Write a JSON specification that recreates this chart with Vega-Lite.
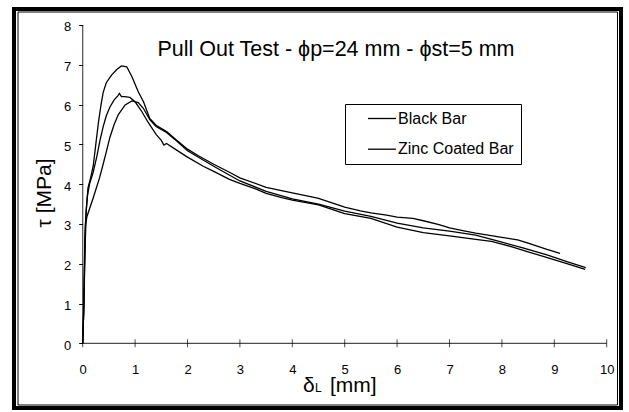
{
  "$schema": "https://vega.github.io/schema/vega-lite/v6.json",
  "autosize": {"type": "none"},
  "padding": {"left": 14, "top": 9, "right": 8, "bottom": 4},
  "width": 607,
  "height": 399,
  "background": "white",
  "config": {
    "view": {"stroke": "black", "strokeWidth": 4},
    "font": "Liberation Sans",
    "axis": {"labelFont": "Liberation Sans", "labelColor": "black", "tickColor": "black", "grid": false},
    "legend": {"labelFont": "Liberation Sans"}
  },
  "datasets": {
    "curves": [
      {"bar": "Black Bar", "spec": "A", "x": 0, "y": 0},
      {"bar": "Black Bar", "spec": "A", "x": 0.02, "y": 0.8},
      {"bar": "Black Bar", "spec": "A", "x": 0.03, "y": 1.8},
      {"bar": "Black Bar", "spec": "A", "x": 0.04, "y": 2.6},
      {"bar": "Black Bar", "spec": "A", "x": 0.06, "y": 3.2},
      {"bar": "Black Bar", "spec": "A", "x": 0.1, "y": 3.9},
      {"bar": "Black Bar", "spec": "A", "x": 0.15, "y": 4.15},
      {"bar": "Black Bar", "spec": "A", "x": 0.2, "y": 4.45},
      {"bar": "Black Bar", "spec": "A", "x": 0.25, "y": 5.0},
      {"bar": "Black Bar", "spec": "A", "x": 0.3, "y": 5.55},
      {"bar": "Black Bar", "spec": "A", "x": 0.35, "y": 6.0},
      {"bar": "Black Bar", "spec": "A", "x": 0.39, "y": 6.3},
      {"bar": "Black Bar", "spec": "A", "x": 0.45, "y": 6.55},
      {"bar": "Black Bar", "spec": "A", "x": 0.55, "y": 6.74},
      {"bar": "Black Bar", "spec": "A", "x": 0.65, "y": 6.88},
      {"bar": "Black Bar", "spec": "A", "x": 0.74, "y": 6.97},
      {"bar": "Black Bar", "spec": "A", "x": 0.84, "y": 6.95},
      {"bar": "Black Bar", "spec": "A", "x": 0.94, "y": 6.7},
      {"bar": "Black Bar", "spec": "A", "x": 1.06, "y": 6.32},
      {"bar": "Black Bar", "spec": "A", "x": 1.16, "y": 6.07},
      {"bar": "Black Bar", "spec": "A", "x": 1.28, "y": 5.65},
      {"bar": "Black Bar", "spec": "A", "x": 1.4, "y": 5.48},
      {"bar": "Black Bar", "spec": "A", "x": 1.6, "y": 5.32},
      {"bar": "Black Bar", "spec": "A", "x": 1.8, "y": 5.1},
      {"bar": "Black Bar", "spec": "A", "x": 2.0, "y": 4.88},
      {"bar": "Black Bar", "spec": "A", "x": 2.2, "y": 4.72},
      {"bar": "Black Bar", "spec": "A", "x": 2.5, "y": 4.5},
      {"bar": "Black Bar", "spec": "A", "x": 2.8, "y": 4.3},
      {"bar": "Black Bar", "spec": "A", "x": 3.0, "y": 4.16},
      {"bar": "Black Bar", "spec": "A", "x": 3.5, "y": 3.92},
      {"bar": "Black Bar", "spec": "A", "x": 4.0, "y": 3.78},
      {"bar": "Black Bar", "spec": "A", "x": 4.3, "y": 3.7},
      {"bar": "Black Bar", "spec": "A", "x": 4.5, "y": 3.64},
      {"bar": "Black Bar", "spec": "A", "x": 5.0, "y": 3.42},
      {"bar": "Black Bar", "spec": "A", "x": 5.3, "y": 3.33},
      {"bar": "Black Bar", "spec": "A", "x": 5.5, "y": 3.28},
      {"bar": "Black Bar", "spec": "A", "x": 5.8, "y": 3.22},
      {"bar": "Black Bar", "spec": "A", "x": 6.0, "y": 3.17},
      {"bar": "Black Bar", "spec": "A", "x": 6.3, "y": 3.14},
      {"bar": "Black Bar", "spec": "A", "x": 6.5, "y": 3.08},
      {"bar": "Black Bar", "spec": "A", "x": 6.8, "y": 2.98},
      {"bar": "Black Bar", "spec": "A", "x": 7.0, "y": 2.9},
      {"bar": "Black Bar", "spec": "A", "x": 7.3, "y": 2.82},
      {"bar": "Black Bar", "spec": "A", "x": 7.5, "y": 2.77},
      {"bar": "Black Bar", "spec": "A", "x": 8.0, "y": 2.66},
      {"bar": "Black Bar", "spec": "A", "x": 8.3, "y": 2.6},
      {"bar": "Black Bar", "spec": "A", "x": 8.5, "y": 2.52},
      {"bar": "Black Bar", "spec": "A", "x": 8.86, "y": 2.36},
      {"bar": "Black Bar", "spec": "A", "x": 9.11, "y": 2.26},
      {"bar": "Zinc Coated Bar", "spec": "B", "x": 0, "y": 0},
      {"bar": "Zinc Coated Bar", "spec": "B", "x": 0.03, "y": 1.3},
      {"bar": "Zinc Coated Bar", "spec": "B", "x": 0.04, "y": 2.2},
      {"bar": "Zinc Coated Bar", "spec": "B", "x": 0.05, "y": 2.9},
      {"bar": "Zinc Coated Bar", "spec": "B", "x": 0.07, "y": 3.4},
      {"bar": "Zinc Coated Bar", "spec": "B", "x": 0.09, "y": 3.7},
      {"bar": "Zinc Coated Bar", "spec": "B", "x": 0.13, "y": 4.0},
      {"bar": "Zinc Coated Bar", "spec": "B", "x": 0.2, "y": 4.3},
      {"bar": "Zinc Coated Bar", "spec": "B", "x": 0.27, "y": 4.7},
      {"bar": "Zinc Coated Bar", "spec": "B", "x": 0.33, "y": 5.1},
      {"bar": "Zinc Coated Bar", "spec": "B", "x": 0.39, "y": 5.44},
      {"bar": "Zinc Coated Bar", "spec": "B", "x": 0.45, "y": 5.72},
      {"bar": "Zinc Coated Bar", "spec": "B", "x": 0.52, "y": 5.94},
      {"bar": "Zinc Coated Bar", "spec": "B", "x": 0.6, "y": 6.12},
      {"bar": "Zinc Coated Bar", "spec": "B", "x": 0.67, "y": 6.22},
      {"bar": "Zinc Coated Bar", "spec": "B", "x": 0.7, "y": 6.28},
      {"bar": "Zinc Coated Bar", "spec": "B", "x": 0.74, "y": 6.2},
      {"bar": "Zinc Coated Bar", "spec": "B", "x": 0.8, "y": 6.2},
      {"bar": "Zinc Coated Bar", "spec": "B", "x": 0.9, "y": 6.18},
      {"bar": "Zinc Coated Bar", "spec": "B", "x": 1.0, "y": 6.07},
      {"bar": "Zinc Coated Bar", "spec": "B", "x": 1.13, "y": 5.82},
      {"bar": "Zinc Coated Bar", "spec": "B", "x": 1.25, "y": 5.55},
      {"bar": "Zinc Coated Bar", "spec": "B", "x": 1.4, "y": 5.25},
      {"bar": "Zinc Coated Bar", "spec": "B", "x": 1.5, "y": 5.1},
      {"bar": "Zinc Coated Bar", "spec": "B", "x": 1.55, "y": 4.98},
      {"bar": "Zinc Coated Bar", "spec": "B", "x": 1.6, "y": 5.02},
      {"bar": "Zinc Coated Bar", "spec": "B", "x": 1.8, "y": 4.85},
      {"bar": "Zinc Coated Bar", "spec": "B", "x": 2.0, "y": 4.68},
      {"bar": "Zinc Coated Bar", "spec": "B", "x": 2.3, "y": 4.45},
      {"bar": "Zinc Coated Bar", "spec": "B", "x": 2.5, "y": 4.32},
      {"bar": "Zinc Coated Bar", "spec": "B", "x": 2.8, "y": 4.12},
      {"bar": "Zinc Coated Bar", "spec": "B", "x": 3.0, "y": 4.02},
      {"bar": "Zinc Coated Bar", "spec": "B", "x": 3.3, "y": 3.88},
      {"bar": "Zinc Coated Bar", "spec": "B", "x": 3.5, "y": 3.77},
      {"bar": "Zinc Coated Bar", "spec": "B", "x": 3.8, "y": 3.66},
      {"bar": "Zinc Coated Bar", "spec": "B", "x": 4.0, "y": 3.6},
      {"bar": "Zinc Coated Bar", "spec": "B", "x": 4.5, "y": 3.48},
      {"bar": "Zinc Coated Bar", "spec": "B", "x": 5.0, "y": 3.26},
      {"bar": "Zinc Coated Bar", "spec": "B", "x": 5.5, "y": 3.14},
      {"bar": "Zinc Coated Bar", "spec": "B", "x": 6.0, "y": 2.92},
      {"bar": "Zinc Coated Bar", "spec": "B", "x": 6.5, "y": 2.78},
      {"bar": "Zinc Coated Bar", "spec": "B", "x": 7.0, "y": 2.7},
      {"bar": "Zinc Coated Bar", "spec": "B", "x": 7.5, "y": 2.61},
      {"bar": "Zinc Coated Bar", "spec": "B", "x": 7.8, "y": 2.56},
      {"bar": "Zinc Coated Bar", "spec": "B", "x": 8.0, "y": 2.49},
      {"bar": "Zinc Coated Bar", "spec": "B", "x": 8.21, "y": 2.42},
      {"bar": "Zinc Coated Bar", "spec": "B", "x": 8.5, "y": 2.3},
      {"bar": "Zinc Coated Bar", "spec": "B", "x": 8.85, "y": 2.16},
      {"bar": "Zinc Coated Bar", "spec": "B", "x": 9.24, "y": 2.0},
      {"bar": "Zinc Coated Bar", "spec": "B", "x": 9.59, "y": 1.86},
      {"bar": "Zinc Coated Bar", "spec": "C", "x": 0, "y": 0},
      {"bar": "Zinc Coated Bar", "spec": "C", "x": 0.02, "y": 0.9},
      {"bar": "Zinc Coated Bar", "spec": "C", "x": 0.03, "y": 1.6},
      {"bar": "Zinc Coated Bar", "spec": "C", "x": 0.05, "y": 2.6},
      {"bar": "Zinc Coated Bar", "spec": "C", "x": 0.06, "y": 3.0},
      {"bar": "Zinc Coated Bar", "spec": "C", "x": 0.08, "y": 3.18},
      {"bar": "Zinc Coated Bar", "spec": "C", "x": 0.11, "y": 3.3},
      {"bar": "Zinc Coated Bar", "spec": "C", "x": 0.2, "y": 3.65},
      {"bar": "Zinc Coated Bar", "spec": "C", "x": 0.32, "y": 4.15},
      {"bar": "Zinc Coated Bar", "spec": "C", "x": 0.38, "y": 4.45},
      {"bar": "Zinc Coated Bar", "spec": "C", "x": 0.46, "y": 4.86},
      {"bar": "Zinc Coated Bar", "spec": "C", "x": 0.52, "y": 5.18},
      {"bar": "Zinc Coated Bar", "spec": "C", "x": 0.6, "y": 5.5},
      {"bar": "Zinc Coated Bar", "spec": "C", "x": 0.68, "y": 5.75},
      {"bar": "Zinc Coated Bar", "spec": "C", "x": 0.81, "y": 5.99},
      {"bar": "Zinc Coated Bar", "spec": "C", "x": 0.94, "y": 6.09},
      {"bar": "Zinc Coated Bar", "spec": "C", "x": 1.06, "y": 6.05},
      {"bar": "Zinc Coated Bar", "spec": "C", "x": 1.16, "y": 5.9},
      {"bar": "Zinc Coated Bar", "spec": "C", "x": 1.28, "y": 5.62},
      {"bar": "Zinc Coated Bar", "spec": "C", "x": 1.4, "y": 5.45},
      {"bar": "Zinc Coated Bar", "spec": "C", "x": 1.6, "y": 5.3},
      {"bar": "Zinc Coated Bar", "spec": "C", "x": 1.8, "y": 5.08},
      {"bar": "Zinc Coated Bar", "spec": "C", "x": 2.0, "y": 4.84},
      {"bar": "Zinc Coated Bar", "spec": "C", "x": 2.5, "y": 4.45},
      {"bar": "Zinc Coated Bar", "spec": "C", "x": 3.0, "y": 4.08},
      {"bar": "Zinc Coated Bar", "spec": "C", "x": 3.5, "y": 3.82},
      {"bar": "Zinc Coated Bar", "spec": "C", "x": 4.0, "y": 3.63},
      {"bar": "Zinc Coated Bar", "spec": "C", "x": 4.5, "y": 3.5},
      {"bar": "Zinc Coated Bar", "spec": "C", "x": 5.0, "y": 3.32},
      {"bar": "Zinc Coated Bar", "spec": "C", "x": 5.5, "y": 3.19},
      {"bar": "Zinc Coated Bar", "spec": "C", "x": 6.0, "y": 3.02},
      {"bar": "Zinc Coated Bar", "spec": "C", "x": 6.5, "y": 2.9},
      {"bar": "Zinc Coated Bar", "spec": "C", "x": 7.0, "y": 2.82},
      {"bar": "Zinc Coated Bar", "spec": "C", "x": 7.5, "y": 2.72},
      {"bar": "Zinc Coated Bar", "spec": "C", "x": 8.0, "y": 2.54},
      {"bar": "Zinc Coated Bar", "spec": "C", "x": 8.4, "y": 2.4},
      {"bar": "Zinc Coated Bar", "spec": "C", "x": 8.86, "y": 2.22},
      {"bar": "Zinc Coated Bar", "spec": "C", "x": 9.24, "y": 2.05},
      {"bar": "Zinc Coated Bar", "spec": "C", "x": 9.6, "y": 1.9}
    ],
    "xticks": [{"t": 0}, {"t": 1}, {"t": 2}, {"t": 3}, {"t": 4}, {"t": 5}, {"t": 6}, {"t": 7}, {"t": 8}, {"t": 9}, {"t": 10}]
  },
  "layer": [
    {
      "data": {"name": "curves"},
      "mark": {"type": "line", "strokeWidth": 1.3, "interpolate": "linear"},
      "encoding": {
        "x": {
          "field": "x", "type": "quantitative",
          "scale": {"domain": [-1.3111, 10.2729], "nice": false, "zero": false},
          "axis": {"offset": -64.7, "domain": false, "ticks": false, "values": [0, 1, 2, 3, 4, 5, 6, 7, 8, 9, 10], "labelPadding": 20, "labelFontSize": 13, "title": null, "labelFlush": false}
        },
        "y": {
          "field": "y", "type": "quantitative",
          "scale": {"domain": [-1.6262, 8.4021], "nice": false, "zero": false},
          "axis": {"offset": -68.7, "domain": false, "ticks": true, "tickSize": 4, "values": [0, 1, 2, 3, 4, 5, 6, 7, 8], "labelPadding": 8, "labelFontSize": 13, "labelOffset": 2, "title": null, "labelFlush": false}
        },
        "color": {
          "field": "bar", "type": "nominal",
          "scale": {"domain": ["Black Bar", "Zinc Coated Bar"], "range": ["black", "black"]},
          "legend": {
            "orient": "none", "legendX": 331, "legendY": 95, "title": null,
            "strokeColor": "black", "fillColor": "white", "padding": 6.5,
            "symbolType": "M-3,0H3", "symbolSize": 87, "symbolStrokeWidth": 1.3, "symbolOffset": 22.5,
            "symbolFillColor": "transparent", "symbolStrokeColor": "black",
            "labelFontSize": 16, "labelOffset": 8, "rowPadding": 14.7, "labelColor": "black"
          }
        },
        "detail": {"field": "spec"}
      }
    },
    {
      "data": {"values": [{}]},
      "mark": {"type": "rect", "filled": false, "color": "black", "strokeWidth": 1},
      "encoding": {"x": {"datum": -1.2347}, "x2": {"datum": 10.206}, "y": {"datum": 8.3268}, "y2": {"datum": -1.5508}}
    },
    {
      "data": {"values": [{}]},
      "mark": {"type": "tick", "orient": "horizontal", "color": "black", "size": 524, "thickness": 1.2},
      "encoding": {"x": {"datum": 5}, "y": {"datum": 0}}
    },
    {
      "data": {"values": [{}]},
      "mark": {"type": "tick", "orient": "vertical", "color": "black", "size": 318.3, "thickness": 1.2},
      "encoding": {"x": {"datum": 0}, "y": {"datum": 4}}
    },
    {
      "data": {"name": "xticks"},
      "mark": {"type": "tick", "orient": "vertical", "color": "black", "size": 8, "thickness": 1},
      "encoding": {"x": {"field": "t", "type": "quantitative"}, "y": {"datum": 0}}
    },
    {
      "data": {"values": [{}]},
      "mark": {"type": "text", "fontSize": 21.5, "align": "center", "baseline": "alphabetic", "color": "black"},
      "encoding": {"x": {"datum": 4.834}, "y": {"datum": 7.221}, "text": {"value": "Pull Out Test - ϕp=24 mm - ϕst=5 mm"}}
    },
    {
      "data": {"values": [{}]},
      "mark": {"type": "text", "fontSize": 21, "align": "center", "baseline": "middle", "angle": 270, "color": "black"},
      "encoding": {"x": {"datum": -0.7195}, "y": {"datum": 3.778}, "text": {"value": "τ [MPa]"}}
    },
    {
      "data": {"values": [{}]},
      "mark": {"type": "text", "fontSize": 21, "align": "left", "baseline": "alphabetic", "color": "black"},
      "encoding": {"x": {"datum": 4.204}, "y": {"datum": -1.224}, "text": {"value": "δ"}}
    },
    {
      "data": {"values": [{}]},
      "mark": {"type": "text", "fontSize": 12, "align": "left", "baseline": "alphabetic", "color": "black"},
      "encoding": {"x": {"datum": 4.433}, "y": {"datum": -1.216}, "text": {"value": "L"}}
    },
    {
      "data": {"values": [{}]},
      "mark": {"type": "text", "fontSize": 21, "align": "left", "baseline": "alphabetic", "color": "black"},
      "encoding": {"x": {"datum": 4.719}, "y": {"datum": -1.224}, "text": {"value": "[mm]"}}
    }
  ]
}
